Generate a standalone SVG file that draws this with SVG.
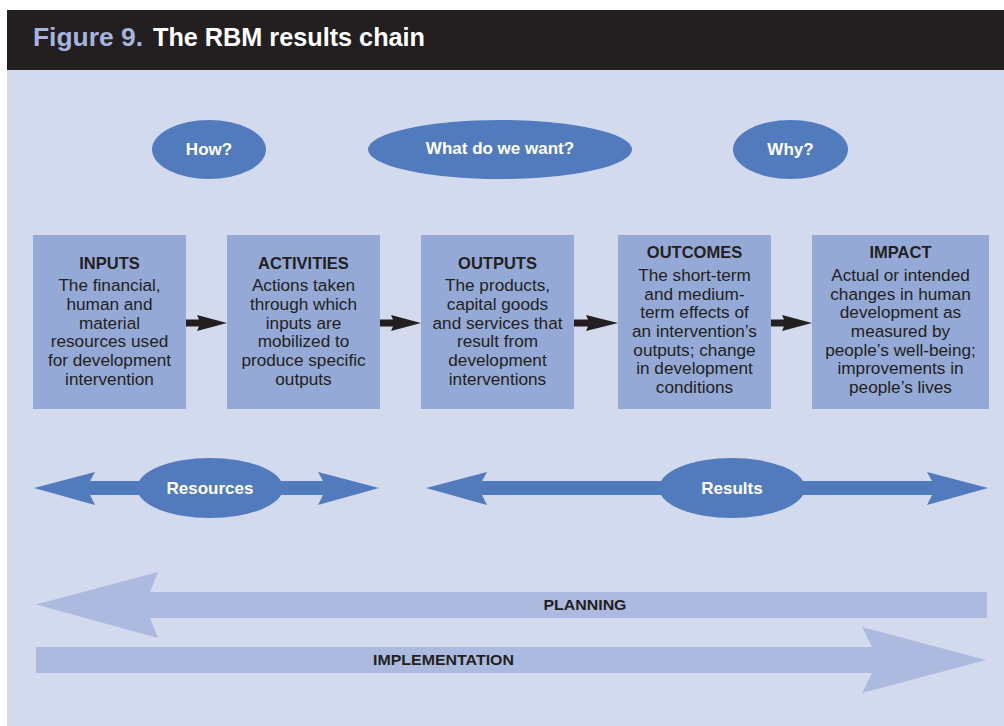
<svg xmlns="http://www.w3.org/2000/svg" width="1004" height="726" viewBox="0 0 1004 726">
<style>
.bg{fill:#d3daee}
.box{fill:#95a9d6}
.ell{fill:#527bbd}
.dbl{fill:#527bbd}
.pl{fill:#adbadf}
.blk{fill:#231f20}
.et{font-family:"Liberation Sans",Arial,sans-serif;font-weight:bold;font-size:17px;fill:#ffffff;text-anchor:middle}
.bt{font-family:"Liberation Sans",Arial,sans-serif;font-weight:bold;font-size:16.5px;fill:#231f20;text-anchor:middle}
.bd{font-family:"Liberation Sans",Arial,sans-serif;font-size:17.2px;fill:#231f20;text-anchor:middle}
.lt{font-family:"Liberation Sans",Arial,sans-serif;font-weight:bold;font-size:14px;fill:#231f20;text-anchor:middle}
</style>
<rect class="bg" x="7" y="70" width="997" height="656"/>
<rect x="7" y="10" width="997" height="60" fill="#231f20"/>
<g id="title">
<text x="33" y="46" font-family="Liberation Sans,Arial,sans-serif" font-weight="bold" font-size="26" fill="#a5b5dd" textLength="110" lengthAdjust="spacingAndGlyphs">Figure 9.</text>
<text x="153" y="46" font-family="Liberation Sans,Arial,sans-serif" font-weight="bold" font-size="26" fill="#ffffff" textLength="272" lengthAdjust="spacingAndGlyphs">The RBM results chain</text>
</g>
<g id="q-how"><ellipse class="ell" cx="209" cy="149.5" rx="57" ry="29.5"/><text class="et" x="209" y="155">How?</text></g>
<g id="q-what"><ellipse class="ell" cx="500" cy="149.5" rx="132" ry="29.5"/><text class="et" x="500" y="154">What do we want?</text></g>
<g id="q-why"><ellipse class="ell" cx="790.5" cy="149.5" rx="57.5" ry="29.5"/><text class="et" x="790.5" y="155">Why?</text></g>
<g id="inputs">
<rect class="box" x="33" y="235" width="153" height="174"/>
<text class="bt" x="109.5" y="269">INPUTS</text>
<text class="bd" x="109.5" y="291">The financial,</text>
<text class="bd" x="109.5" y="310">human and</text>
<text class="bd" x="109.5" y="329">material</text>
<text class="bd" x="109.5" y="347">resources used</text>
<text class="bd" x="109.5" y="366">for development</text>
<text class="bd" x="109.5" y="385">intervention</text>
</g>
<g id="activities">
<rect class="box" x="227" y="235" width="153" height="174"/>
<text class="bt" x="303.5" y="269">ACTIVITIES</text>
<text class="bd" x="303.5" y="291">Actions taken</text>
<text class="bd" x="303.5" y="310">through which</text>
<text class="bd" x="303.5" y="329">inputs are</text>
<text class="bd" x="303.5" y="347">mobilized to</text>
<text class="bd" x="303.5" y="366">produce specific</text>
<text class="bd" x="303.5" y="385">outputs</text>
</g>
<g id="outputs">
<rect class="box" x="421" y="235" width="153" height="174"/>
<text class="bt" x="497.5" y="269">OUTPUTS</text>
<text class="bd" x="497.5" y="291">The products,</text>
<text class="bd" x="497.5" y="310">capital goods</text>
<text class="bd" x="497.5" y="329">and services that</text>
<text class="bd" x="497.5" y="347">result from</text>
<text class="bd" x="497.5" y="366">development</text>
<text class="bd" x="497.5" y="385">interventions</text>
</g>
<g id="outcomes">
<rect class="box" x="618" y="235" width="153" height="174"/>
<text class="bt" x="694.5" y="258">OUTCOMES</text>
<text class="bd" x="694.5" y="281">The short-term</text>
<text class="bd" x="694.5" y="300">and medium-</text>
<text class="bd" x="694.5" y="318">term effects of</text>
<text class="bd" x="694.5" y="337">an intervention’s</text>
<text class="bd" x="694.5" y="356">outputs; change</text>
<text class="bd" x="694.5" y="374">in development</text>
<text class="bd" x="694.5" y="393">conditions</text>
</g>
<g id="impact">
<rect class="box" x="812" y="235" width="177" height="174"/>
<text class="bt" x="900.5" y="258">IMPACT</text>
<text class="bd" x="900.5" y="281">Actual or intended</text>
<text class="bd" x="900.5" y="300">changes in human</text>
<text class="bd" x="900.5" y="318">development as</text>
<text class="bd" x="900.5" y="337">measured by</text>
<text class="bd" x="900.5" y="356">people’s well-being;</text>
<text class="bd" x="900.5" y="374">improvements in</text>
<text class="bd" x="900.5" y="393">people’s lives</text>
</g>
<g id="connectors">
<polygon class="blk" points="186,319.5 199,319.5 197,315 227,323 197,331 199,326.5 186,326.5"/>
<polygon class="blk" points="380,319.5 393,319.5 391,315 421,323 391,331 393,326.5 380,326.5"/>
<polygon class="blk" points="574,319.5 588,319.5 586,315 618,323 586,331 588,326.5 574,326.5"/>
<polygon class="blk" points="771,319.5 784,319.5 782,315 812,323 782,331 784,326.5 771,326.5"/>
</g>
<g id="resources">
<polygon class="dbl" points="34,488 95,472 90,481 323,481 318,472 379,488 318,505 323,495 90,495 95,505"/>
<ellipse class="ell" cx="210" cy="488" rx="73" ry="30"/>
<text class="et" x="210" y="494">Resources</text>
</g>
<g id="results">
<polygon class="dbl" points="426,488 487,472 482,481 932,481 927,472 988,488 927,505 932,495 482,495 487,505"/>
<ellipse class="ell" cx="732" cy="488" rx="73" ry="30"/>
<text class="et" x="732" y="494">Results</text>
</g>
<g id="planning">
<polygon class="pl" points="36,604.5 158,572 150,592 987,592 987,618 150,618 158,638"/>
<text class="lt" x="585" y="609.5" textLength="83" lengthAdjust="spacingAndGlyphs">PLANNING</text>
</g>
<g id="implementation">
<polygon class="pl" points="36,647 872,647 862,627 986,660 862,693 872,673 36,673"/>
<text class="lt" x="443.5" y="665" textLength="141" lengthAdjust="spacingAndGlyphs">IMPLEMENTATION</text>
</g>
</svg>
